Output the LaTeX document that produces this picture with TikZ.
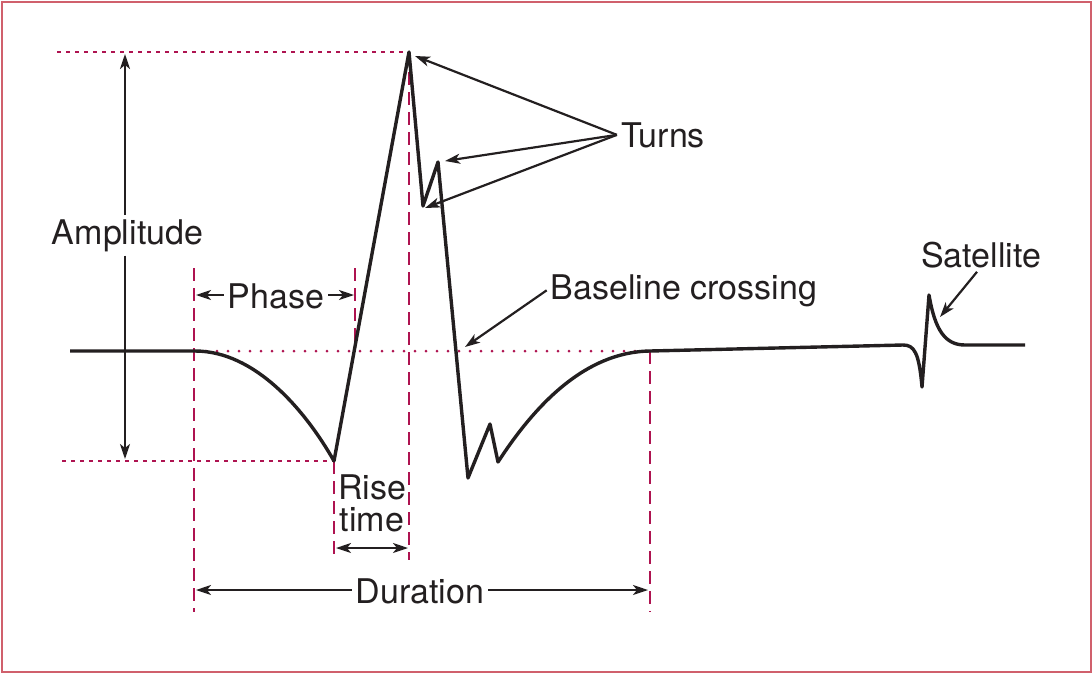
\documentclass[tikz,border=0pt]{standalone}
\usepackage{fontspec}
\setmainfont{TeX Gyre Heros}
\usetikzlibrary{arrows.meta}
\definecolor{emgRose}{HTML}{D0606C}
\definecolor{emgMag}{HTML}{AE1350}
\definecolor{emgInk}{HTML}{231F20}
\begin{document}
\begin{tikzpicture}[x=1pt,y=-1pt,
 wave/.style={draw=emgInk,line width=3.4pt,line join=round},
 guide/.style={draw=emgMag,line width=2.8pt,dash pattern=on 13pt off 7pt},
 hguide/.style={draw=emgMag,line width=2.4pt,dash pattern=on 4pt off 5pt},
 base/.style={draw=emgMag,line width=3pt,line cap=round,dash pattern=on 0pt off 11pt},
 arr/.style={-{Stealth[length=15pt,width=10pt,inset=4pt]},line width=2.2pt,draw=emgInk},
 dim/.style={arr,{Stealth[length=15pt,width=10pt,inset=4pt]}-{Stealth[length=15pt,width=10pt,inset=4pt]}},
 lbl/.style={font=\fontsize{34}{36}\selectfont,text=emgInk,inner sep=4pt}]
\useasboundingbox (0,0) rectangle (1092,673);
\draw[emgRose,line width=2pt] (1.5,1.5) rectangle (1090.5,671.5);
\coordinate (start) at (70,351);
\coordinate (onset) at (195,351);
\coordinate (trough) at (334,461);
\coordinate (peak) at (409,52);
\coordinate (back) at (650,351);
\draw[hguide] (57,52) -- (peak);
\draw[hguide] (62,461) -- (trough);
\draw[base] (onset) -- (back);
\draw[guide] (194,268) -- (194,612);
\draw[guide] (355,268) -- (355,350);
\draw[guide] (peak) -- (409,560);
\draw[guide] (trough) -- (334,560);
\draw[guide] (back) -- (650,612);
\draw[wave] (start) -- (onset) .. controls (255,351) and (305,410) .. (trough)
 -- (peak) -- (423,206) -- (438,162) -- (468,478) -- (490,424) -- (498,462)
 .. controls (535,405) and (585,352) .. (back) -- (903,345)
 .. controls (914,345) and (919,352) .. (922,387) -- (929,295)
 .. controls (935,330) and (945,345) .. (965,345) -- (1025,345);
\coordinate (ampT) at (125,54);
\coordinate (ampB) at (125,459);
\node[lbl,anchor=base] (amp) at (127.5,244) {Amplitude};
\draw[arr] (amp.north -| ampT) -- (ampT);
\draw[arr] (amp.south -| ampB) -- (ampB);
\coordinate (phL) at (196,295);
\coordinate (phR) at (354,295);
\node[lbl,anchor=base] (phase) at (276,308) {Phase};
\draw[arr] (phase.west |- phL) -- (phL);
\draw[arr] (phase.east |- phR) -- (phR);
\node[lbl,anchor=base] (rise) at (372,499) {Rise};
\node[lbl,anchor=base] (time) at (372,531) {time};
\coordinate (rtL) at (336,548);
\coordinate (rtR) at (408,548);
\draw[dim] (rtL) -- (rtR);
\coordinate (duL) at (196,590);
\coordinate (duR) at (648,590);
\node[lbl,anchor=base] (dur) at (420,603) {Duration};
\draw[arr] (dur.west |- duL) -- (duL);
\draw[arr] (dur.east |- duR) -- (duR);
\node[lbl,anchor=base] (turns) at (663,147) {Turns};
\coordinate (t1) at (415,56);
\coordinate (t2) at (445,161);
\coordinate (t3) at (425,208);
\draw[arr] (turns.west) -- (t1);
\draw[arr] (turns.west) -- (t2);
\draw[arr] (turns.west) -- (t3);
\node[lbl,anchor=base] (bc) at (684,299) {Baseline crossing};
\coordinate (bcT) at (465,347);
\draw[arr] (bc.west) -- (bcT);
\node[lbl,anchor=base] (sat) at (981,267) {Satellite};
\coordinate (satT) at (940,317);
\draw[arr] ([xshift=-4pt]sat.south) -- (satT);
\end{tikzpicture}
\end{document}
